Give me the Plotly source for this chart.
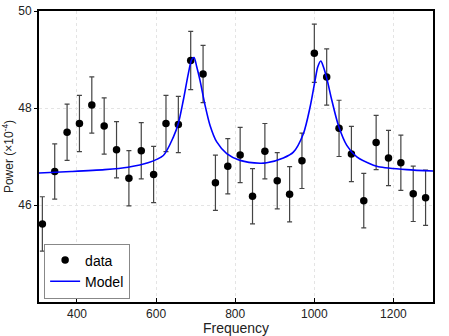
import plotly.graph_objects as go

# measured spectrum
freq = [312.5, 343.75, 375, 406.25, 437.5, 468.75, 500, 531.25,
        562.5, 593.75, 625, 656.25, 687.5, 718.75, 750, 781.25,
        812.5, 843.75, 875, 906.25, 937.5, 968.75, 1000, 1031.25,
        1062.5, 1093.75, 1125, 1156.25, 1187.5, 1218.75, 1250, 1281.25]
power = [45.61, 46.69, 47.50, 47.68, 48.06, 47.63, 47.14, 46.55,
         47.12, 46.63, 47.68, 47.66, 48.98, 48.70, 46.46, 46.80,
         47.03, 46.18, 47.11, 46.50, 46.22, 46.91, 49.13, 48.64,
         47.58, 47.05, 46.09, 47.29, 46.97, 46.87, 46.23, 46.15]
power_err = [0.56, 0.57, 0.58, 0.58, 0.58, 0.58, 0.58, 0.57,
             0.58, 0.58, 0.58, 0.58, 0.60, 0.59, 0.57, 0.57,
             0.57, 0.57, 0.57, 0.58, 0.57, 0.57, 0.60, 0.58,
             0.58, 0.57, 0.56, 0.56, 0.57, 0.57, 0.57, 0.57]

# model curve
model_f = [304, 385.6, 470, 529, 579.6, 618.3, 643.6, 656.2, 668.8, 681.5,
           690.1, 695.9, 702.7, 711, 723.7, 736.4, 753.3, 778.6, 812.2, 862.8,
           879.7, 921.7, 947, 972.3, 989.3, 1001.9, 1008.8, 1016.4, 1022.9, 1031.5,
           1044.2, 1060.9, 1082.1, 1107.4, 1149.4, 1162, 1233.6, 1300]
model_p = [46.66, 46.69, 46.73, 46.78, 46.87, 47.02, 47.40, 47.68, 48.16, 48.71,
           49.00, 49.04, 48.85, 48.57, 48.06, 47.64, 47.30, 47.06, 46.92, 46.86,
           46.87, 46.97, 47.09, 47.47, 48.02, 48.57, 48.85, 48.97, 48.85, 48.61,
           48.16, 47.64, 47.23, 46.99, 46.82, 46.79, 46.73, 46.70]

fnt = "Liberation Sans, Arial, sans-serif"

fig = go.Figure()
fig.add_scatter(x=freq, y=power, mode='markers', name='data',
                marker=dict(color='black', size=7.5),
                error_y=dict(type='data', array=power_err, color='#444',
                             thickness=1.2, width=2.5))
fig.add_scatter(x=model_f, y=model_p, mode='lines', name='Model',
                line=dict(color='#0000ff', width=1.6, shape='spline', smoothing=0.8))

axis_common = dict(showline=True, linecolor='black', linewidth=2, mirror=True,
                   showgrid=True, gridcolor='#e4e4e4', griddash='dot', gridwidth=1,
                   zeroline=False, automargin=False,
                   tickfont=dict(size=12, color='#222', family=fnt),
                   tickcolor='black')

fig.update_xaxes(range=[304, 1300], tickvals=[400, 600, 800, 1000, 1200],
                 ticks='inside', ticklen=4,
                 title=dict(text='Frequency', font=dict(size=14, color='#222', family=fnt)),
                 **axis_common)
fig.update_yaxes(range=[44, 50], tickvals=[46, 48, 50],
                 ticks='outside', ticklen=3,
                 title=dict(text='Power (×10<sup>-4</sup>)',
                            font=dict(size=12, color='#222', family=fnt)),
                 **axis_common)

fig.update_layout(
    width=449, height=336,
    margin=dict(l=39, r=16, t=11, b=34),
    plot_bgcolor='white', paper_bgcolor='white',
    font=dict(family=fnt),
    legend=dict(x=0.013, y=0.012, xanchor='left', yanchor='bottom',
                bgcolor='white', bordercolor='#888', borderwidth=1,
                font=dict(size=14, color='black', family=fnt),
                tracegroupgap=0),
)

# drop the browser's default 8px body margin so the figure sits at (0, 0)
fig.write_html("out.html", config={'displayModeBar': False},
               post_script="document.body.style.margin='0';")
